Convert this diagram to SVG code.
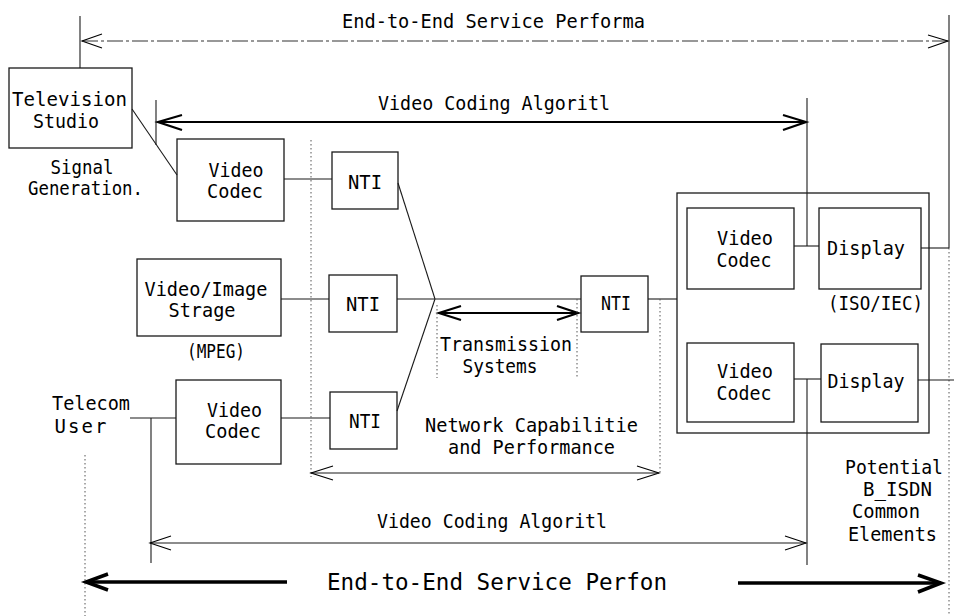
<svg xmlns="http://www.w3.org/2000/svg" width="954" height="616" viewBox="0 0 954 616">
<style>
text{font-family:"DejaVu Sans Mono","Liberation Mono",monospace;font-size:19px;fill:#000;text-anchor:middle}
.big{font-size:23px}
.box{fill:none;stroke:#1a1a1a;stroke-width:1.3}
.ln{fill:none;stroke:#1a1a1a;stroke-width:1.1}
.thick{fill:none;stroke:#000;stroke-width:2.2}
.xthick{fill:none;stroke:#000;stroke-width:3.5}
.dot{fill:none;stroke:#555;stroke-width:1;stroke-dasharray:1.5 2.5}
.dashdot{fill:none;stroke:#333;stroke-width:1.1;stroke-dasharray:16 3 3 3}
.head{fill:none;stroke:#000;stroke-width:1.1}
.headT{fill:none;stroke:#000;stroke-width:2.2}
.headX{fill:none;stroke:#000;stroke-width:3.5}
</style>

<g id="labels">
<text x="493.5" y="28" textLength="303" lengthAdjust="spacingAndGlyphs">End-to-End Service Performa</text>
<text x="494" y="110" textLength="232" lengthAdjust="spacingAndGlyphs">Video Coding Algoritl</text>
<text x="82" y="174" textLength="63" lengthAdjust="spacingAndGlyphs">Signal</text>
<text x="85.5" y="195" textLength="115" lengthAdjust="spacingAndGlyphs">Generation.</text>
<text x="216" y="358" textLength="58" lengthAdjust="spacingAndGlyphs">(MPEG)</text>
<text x="506" y="351" textLength="132" lengthAdjust="spacingAndGlyphs">Transmission</text>
<text x="500" y="373" textLength="75" lengthAdjust="spacingAndGlyphs">Systems</text>
<text x="531.5" y="432" textLength="213" lengthAdjust="spacingAndGlyphs">Network Capabilitie</text>
<text x="531.5" y="454" textLength="167" lengthAdjust="spacingAndGlyphs">and Performance</text>
<text x="875.5" y="310" textLength="95" lengthAdjust="spacingAndGlyphs">(ISO/IEC)</text>
<text x="91" y="410" textLength="78" lengthAdjust="spacingAndGlyphs">Telecom</text>
<text x="80.5" y="433" textLength="52" lengthAdjust="spacing">User</text>
<text x="894" y="474" textLength="98" lengthAdjust="spacingAndGlyphs">Potential</text>
<text x="897.5" y="496" textLength="69" lengthAdjust="spacingAndGlyphs">B_ISDN</text>
<text x="886" y="518" textLength="68" lengthAdjust="spacingAndGlyphs">Common</text>
<text x="892.5" y="541" textLength="89" lengthAdjust="spacingAndGlyphs">Elements</text>
<text x="492" y="528" textLength="230" lengthAdjust="spacingAndGlyphs">Video Coding Algoritl</text>
<text class="big" x="497" y="590" textLength="340" lengthAdjust="spacingAndGlyphs">End-to-End Service Perfon</text>
</g>

<g id="tv-studio">
<rect class="box" x="9" y="68" width="123" height="80"/>
<text x="69.5" y="106" textLength="115" lengthAdjust="spacingAndGlyphs">Television</text>
<text x="66" y="128" textLength="66" lengthAdjust="spacingAndGlyphs">Studio</text>
</g>

<g id="video-codec-1">
<rect class="box" x="177" y="139" width="107" height="82"/>
<text x="236" y="177" textLength="55" lengthAdjust="spacingAndGlyphs">Video</text>
<text x="235" y="198" textLength="56" lengthAdjust="spacingAndGlyphs">Codec</text>
</g>

<g id="video-image-storage">
<rect class="box" x="137" y="259" width="144" height="77"/>
<text x="206" y="296" textLength="123" lengthAdjust="spacingAndGlyphs">Video/Image</text>
<text x="202" y="317" textLength="67" lengthAdjust="spacingAndGlyphs">Strage</text>
</g>

<g id="video-codec-3">
<rect class="box" x="176" y="380" width="105" height="84"/>
<text x="234.5" y="417" textLength="55" lengthAdjust="spacingAndGlyphs">Video</text>
<text x="233" y="438" textLength="56" lengthAdjust="spacingAndGlyphs">Codec</text>
</g>

<g id="nti-1">
<rect class="box" x="332" y="152" width="66" height="57"/>
<text x="365" y="189" textLength="34" lengthAdjust="spacingAndGlyphs">NTI</text>
</g>

<g id="nti-2">
<rect class="box" x="329" y="275" width="68" height="57"/>
<text x="363" y="311" textLength="34" lengthAdjust="spacingAndGlyphs">NTI</text>
</g>

<g id="nti-3">
<rect class="box" x="330" y="392" width="67" height="57"/>
<text x="365" y="428" textLength="32" lengthAdjust="spacingAndGlyphs">NTI</text>
</g>

<g id="nti-mid">
<rect class="box" x="581" y="276" width="67" height="56"/>
<text x="616" y="310" textLength="30" lengthAdjust="spacingAndGlyphs">NTI</text>
</g>

<g id="b-isdn-group">
<rect class="box" x="677" y="193" width="252" height="240"/>
</g>

<g id="video-codec-a">
<rect class="box" x="687" y="208" width="107" height="81"/>
<text x="745" y="245" textLength="56" lengthAdjust="spacingAndGlyphs">Video</text>
<text x="744" y="267" textLength="55" lengthAdjust="spacingAndGlyphs">Codec</text>
</g>

<g id="display-a">
<rect class="box" x="819" y="208" width="102" height="81"/>
<text x="866" y="255" textLength="78" lengthAdjust="spacingAndGlyphs">Display</text>
</g>

<g id="video-codec-b">
<rect class="box" x="687" y="343" width="107" height="79"/>
<text x="745" y="378" textLength="56" lengthAdjust="spacingAndGlyphs">Video</text>
<text x="744" y="400" textLength="55" lengthAdjust="spacingAndGlyphs">Codec</text>
</g>

<g id="display-b">
<rect class="box" x="821" y="344" width="97" height="78"/>
<text x="866" y="388" textLength="77" lengthAdjust="spacingAndGlyphs">Display</text>
</g>

<g id="connectors">
<line class="ln" x1="80" y1="16" x2="80" y2="68"/>
<line class="dashdot" x1="82" y1="41" x2="948" y2="41"/>
<polyline class="head" points="102,34 82,41 102,48"/>
<polyline class="head" points="928,35 948,41 928,48"/>
<line class="ln" x1="949" y1="15" x2="949" y2="248"/>
<line class="dot" x1="949" y1="248" x2="949" y2="616"/>

<line class="ln" x1="156" y1="100" x2="156" y2="145"/>
<line class="thick" x1="158" y1="122" x2="806" y2="122"/>
<polyline class="headT" points="182,115 158,122 182,130"/>
<polyline class="headT" points="783,115 806,122 783,130"/>
<line class="ln" x1="807" y1="98" x2="807" y2="246"/>

<line class="ln" x1="132" y1="109" x2="177" y2="175"/>
<line class="ln" x1="284" y1="179" x2="332" y2="179"/>
<line class="ln" x1="281" y1="299" x2="329" y2="299"/>
<line class="ln" x1="281" y1="418" x2="330" y2="418"/>
<line class="dot" x1="311" y1="140" x2="311" y2="477"/>

<line class="ln" x1="398" y1="183" x2="435" y2="299"/>
<line class="ln" x1="397" y1="411" x2="435" y2="299"/>
<line class="ln" x1="397" y1="299" x2="581" y2="299"/>

<line class="thick" x1="439" y1="313" x2="578" y2="313"/>
<polyline class="headT" points="461,306 439,313 461,320"/>
<polyline class="headT" points="557,306 578,313 557,320"/>
<line class="dot" x1="437" y1="305" x2="437" y2="378"/>
<line class="dot" x1="577" y1="299" x2="577" y2="378"/>

<line class="ln" x1="648" y1="299" x2="677" y2="299"/>
<line class="dot" x1="660" y1="299" x2="660" y2="474"/>

<line class="ln" x1="311" y1="473" x2="659" y2="473"/>
<polyline class="head" points="333,466 311,473 333,480"/>
<polyline class="head" points="637,466 659,473 637,480"/>

<line class="ln" x1="794" y1="246" x2="819" y2="246"/>
<line class="ln" x1="921" y1="248" x2="949" y2="248"/>
<line class="ln" x1="794" y1="379" x2="821" y2="379"/>
<line class="ln" x1="807" y1="379" x2="807" y2="565"/>
<line class="ln" x1="918" y1="380" x2="954" y2="380"/>

<line class="ln" x1="130" y1="418" x2="176" y2="418"/>
<line class="ln" x1="151" y1="418" x2="151" y2="563"/>

<line class="ln" x1="150" y1="543" x2="806" y2="543"/>
<polyline class="head" points="171,536 150,543 171,550"/>
<polyline class="head" points="785,536 806,543 785,550"/>

<line class="dot" x1="85" y1="455" x2="85" y2="616"/>
<line class="xthick" x1="86" y1="582" x2="287" y2="582"/>
<polyline class="headX" points="108,574 86,582 108,590"/>
<line class="xthick" x1="738" y1="583" x2="941" y2="583"/>
<polyline class="headX" points="918,575 941,583 918,592"/>
</g>
</svg>
